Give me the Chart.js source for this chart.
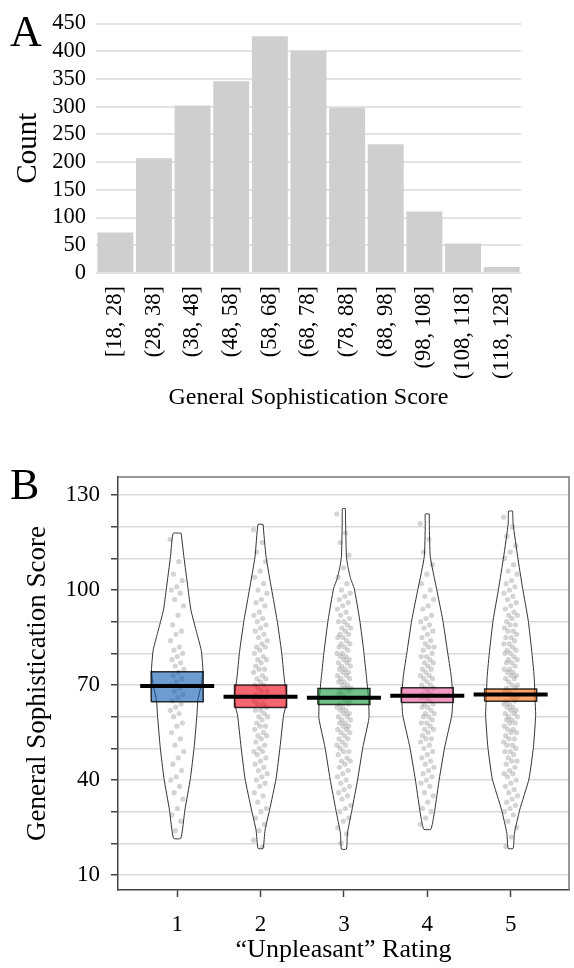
<!DOCTYPE html>
<html><head><meta charset="utf-8">
<script src="https://cdn.jsdelivr.net/npm/chart.js@4/dist/chart.umd.min.js"></script>
<style>
html,body{margin:0;padding:0;background:#fff;}
body{width:574px;height:968px;position:relative;overflow:hidden;}
#wrapA{position:absolute;left:0;top:0;width:574px;height:430px;}
#wrapB{position:absolute;left:0;top:430px;width:574px;height:538px;}
.panel{position:absolute;left:10px;font-family:"Liberation Serif","Times New Roman",serif;color:#000;line-height:1;}
</style></head><body>
<div id="wrapA"><canvas id="chartA" width="574" height="430"></canvas></div>
<div id="wrapB"><canvas id="chartB" width="574" height="538"></canvas></div>
<div class="panel" style="top:10px;font-size:44px">A</div>
<div class="panel" style="top:463px;font-size:44px">B</div>
<script>
const SERIF = '"Liberation Serif","Times New Roman",serif';

// ---------- Panel A data ----------
const binLabels = ['[18, 28]','(28, 38]','(38, 48]','(48, 58]','(58, 68]','(68, 78]','(78, 88]','(88, 98]','(98, 108]','(108, 118]','(118, 128]'];
const binCounts = [73, 207, 302, 346, 427, 401, 298, 232, 111, 53, 11];

// ---------- Panel B data ----------
const ratingCats = [1, 2, 3, 4, 5];
const yGridValues = [10,20,30,40,50,60,70,80,90,100,110,120,130];
const yLabelValues = [10, 40, 70, 100, 130];

// inference band (lower, upper) and mean per rating
const bandLower = [64.7, 62.9, 63.8, 64.5, 64.9];
const bandUpper = [74.2, 70.0, 68.9, 69.1, 68.7];
const groupMeans = [69.7, 66.3, 66.0, 66.6, 67.0];

// violin outlines: score levels and density (half-width) at each level
const violin1Y = [117.9,110.5,100.5,93.7,86.3,81,74.7,70,65.3,60.5,50.5,40.5,30.5,21.6];
const violin1D = [4,6.7,10.8,13.7,19.7,24,25.7,24,20.7,19.7,17,13.2,7.7,3.7];
const violin2Y = [120.7,110.5,100.3,90.5,80.5,72.6,66,63,60.5,50.5,40.4,30.5,24.2,18.4];
const violin2D = [2.5,5.5,11,16.5,21,23.5,26,25,23,19.5,15.5,9,4.5,2.5];
const violin3Y = [125.7,120.8,110.5,107.3,103.6,100.5,90.5,81,72.6,66,59.5,50.5,40.3,30.5,23.2,18.2];
const violin3D = [1.5,1.7,2.5,4,6.7,10.3,15.8,19.7,22.5,24.5,25,19,13.8,8,3.5,2.5];
const violin4Y = [124,120.8,110.5,100.5,90.5,81,72.6,66,60.5,50.5,40.3,30.5,26,24.4];
const violin4D = [2,2,3,9.2,15.5,20,24,25.5,24.5,17.5,12,7.5,5,3.5];
const violin5Y = [124.9,120.8,110.5,100.5,90.5,81,72.6,66,60.5,50.5,40.3,30.5,23.2,18.4];
const violin5D = [2,2.5,7,12,17.5,21,23.5,24.3,25,22.8,18.3,9,3.8,2.5];

// individual scores per rating
const scores1 = [116,109,105,103,101,100,99,97,95,92,89,87,86,84,82,81,80,79,78,77,76,75,74,73,72,71,70,69,68,67,66,65,64,63,62,61,60,58,57,55,53,51,49,47,45,43,41,40,38,36,34,31,29,27,24];
const scores2 = [119,115,112,109,106,104,102,100,99,97,96,95,93,92,91,90,89,88,87,86,85,84,83,82,82,81,80,79,78,78,77,76,75,75,74,73,72,72,71,70,70,69,68,68,67,66,66,65,64,64,63,62,62,61,60,60,59,58,57,57,56,55,54,54,53,52,51,50,49,49,48,47,46,45,44,43,42,41,40,39,38,36,35,33,31,30,28,26,24,21,19];
const scores3 = [124,118,115,111,107,104,102,100,99,98,97,96,95,94,93,92,91,90,90,89,88,88,87,86,86,85,85,84,83,83,82,82,81,80,80,79,79,78,78,77,77,76,76,75,75,74,74,73,73,72,72,71,71,70,70,69,69,68,68,67,67,66,66,65,65,64,64,63,63,62,62,61,61,60,60,59,59,58,58,57,57,56,56,55,55,54,53,53,52,51,51,50,49,49,48,47,46,46,45,44,43,42,41,40,39,38,37,36,35,34,32,31,30,28,27,25,23,20];
const scores4 = [121,116,112,108,105,102,100,98,97,95,94,92,91,90,89,88,87,86,85,84,83,82,82,81,80,79,79,78,77,77,76,75,75,74,73,73,72,72,71,70,70,69,69,68,67,67,66,66,65,64,64,63,63,62,61,61,60,60,59,58,58,57,56,56,55,54,53,53,52,51,50,49,48,47,46,45,44,43,42,41,40,39,38,36,35,33,31,30,28,26];
const scores5 = [123,120,117,114,112,110,108,106,105,103,102,101,100,99,98,97,96,95,94,93,92,92,91,90,89,89,88,87,87,86,85,85,84,83,83,82,81,81,80,80,79,78,78,77,77,76,75,75,74,74,73,73,72,72,71,70,70,69,69,68,68,67,67,66,66,65,65,64,64,63,63,62,62,61,61,60,60,59,59,58,58,57,56,56,55,55,54,53,53,52,51,51,50,49,49,48,47,46,46,45,44,43,42,42,41,40,39,38,37,36,35,34,33,32,31,30,29,27,25,22,19];

const bandColors = ['rgba(12,91,176,0.6)','rgba(238,0,17,0.6)','rgba(21,152,61,0.6)','rgba(236,87,154,0.6)','rgba(250,107,9,0.6)'];

// ---------- Panel A ----------
new Chart(document.getElementById('chartA'), {
  type: 'bar',
  data: { labels: binLabels, datasets: [{ data: binCounts, backgroundColor: '#cfcfcf', borderWidth: 0, barPercentage: 1, categoryPercentage: 0.93 }] },
  options: {
    responsive: false, animation: false, devicePixelRatio: 1,
    layout: { padding: { top: 20, right: 53, bottom: 0, left: 0 } },
    plugins: { legend: { display: false }, tooltip: { enabled: false } },
    scales: {
      x: {
        grid: { display: false, drawTicks: false }, border: { display: false },
        ticks: { autoSkip: false, minRotation: 90, maxRotation: 90, padding: 13, color: '#000', font: { family: SERIF, size: 22.5 } },
        title: { display: true, text: 'General Sophistication Score', color: '#000', font: { family: SERIF, size: 24 }, padding: { top: 0, bottom: 18 } },
        afterFit(s) { s.height = 157; }
      },
      y: {
        min: 0, max: 450,
        grid: { color: '#e3e3e3', lineWidth: 2, drawTicks: false }, border: { display: false },
        ticks: { stepSize: 50, autoSkip: false, padding: 10, color: '#000', font: { family: SERIF, size: 22.5 } },
        title: { display: true, text: 'Count', color: '#000', font: { family: SERIF, size: 29 }, padding: { top: 11, bottom: 0 } },
        afterFit(s) { s.width = 96; }
      }
    }
  }
});

// ---------- Panel B ----------
const VIOLIN_SCALE = 1 / 83.3;   // density units -> x-axis units
const BOX_HALF = 0.312, MEAN_HALF = 0.444, JITTER = 0.085;
const violinYs = [violin1Y, violin2Y, violin3Y, violin4Y, violin5Y];
const violinDs = [violin1D, violin2D, violin3D, violin4D, violin5D];
const scoreSets = [scores1, scores2, scores3, scores4, scores5];

const datasetsB = [];
ratingCats.forEach((c, g) => {
  const ys = violinYs[g], ds = violinDs[g];
  const pts = [];
  for (let i = 0; i < ys.length; i++) pts.push({ x: c + ds[i] * VIOLIN_SCALE, y: ys[i] });
  for (let i = ys.length - 1; i >= 0; i--) pts.push({ x: c - ds[i] * VIOLIN_SCALE, y: ys[i] });
  pts.push(pts[0]);
  datasetsB.push({ data: pts, order: 4, showLine: true, fill: 'shape', backgroundColor: '#ffffff', borderColor: '#333', borderWidth: 1, pointRadius: 0, tension: 0.15 });
});
ratingCats.forEach((c, g) => {
  const pts = scoreSets[g].map((v, i) => ({ x: c + (((i * 0.6180339887) % 1) - 0.5) * 2 * JITTER, y: v }));
  datasetsB.push({ data: pts, order: 3, showLine: false, pointRadius: 2.6, pointBorderWidth: 0, pointBackgroundColor: 'rgba(60,60,60,0.22)', pointHoverRadius: 0 });
});
ratingCats.forEach((c, g) => {
  const lo = bandLower[g], hi = bandUpper[g];
  const pts = [{ x: c - BOX_HALF, y: lo }, { x: c + BOX_HALF, y: lo }, { x: c + BOX_HALF, y: hi }, { x: c - BOX_HALF, y: hi }, { x: c - BOX_HALF, y: lo }];
  datasetsB.push({ data: pts, order: 2, showLine: true, fill: 'shape', backgroundColor: bandColors[g], borderColor: 'rgba(0,0,0,0.8)', borderWidth: 1.5, pointRadius: 0, tension: 0 });
});
ratingCats.forEach((c, g) => {
  datasetsB.push({ data: [{ x: c - MEAN_HALF, y: groupMeans[g] }, { x: c + MEAN_HALF, y: groupMeans[g] }], order: 1, showLine: true, fill: false, borderColor: '#000', borderWidth: 4, pointRadius: 0, borderCapStyle: 'butt' });
});

const framePlugin = {
  id: 'frame',
  beforeDatasetsDraw(chart) {
    const { ctx, chartArea: a } = chart;
    ctx.save();
    ctx.strokeStyle = '#777'; ctx.lineWidth = 1.5;
    ctx.beginPath();
    ctx.moveTo(a.left, a.top); ctx.lineTo(a.right, a.top); ctx.lineTo(a.right, a.bottom);
    ctx.stroke();
    ctx.restore();
  }
};

new Chart(document.getElementById('chartB'), {
  type: 'line',
  data: { datasets: datasetsB },
  plugins: [framePlugin],
  options: {
    responsive: false, animation: false, devicePixelRatio: 1,
    layout: { padding: { top: 47, right: 5, bottom: 0, left: 0 } },
    plugins: { legend: { display: false }, tooltip: { enabled: false } },
    elements: { point: { hoverRadius: 0 } },
    scales: {
      x: {
        type: 'linear', min: 0.29, max: 5.70,
        afterBuildTicks(s) { s.ticks = ratingCats.map(v => ({ value: v })); },
        grid: { drawOnChartArea: false, drawTicks: true, tickLength: 7, tickColor: '#444', tickWidth: 1.5 },
        border: { display: true, color: '#444', width: 1.5 },
        ticks: { padding: 14, color: '#000', font: { family: SERIF, size: 23 } },
        title: { display: true, text: '\u201cUnpleasant\u201d Rating', color: '#000', font: { family: SERIF, size: 26 }, padding: { top: 0, bottom: 2 } },
        afterFit(s) { s.height = 78; }
      },
      y: {
        type: 'linear', min: 5.26, max: 135.68,
        afterBuildTicks(s) { s.ticks = yGridValues.map(v => ({ value: v })); },
        grid: { color: '#d9d9d9', lineWidth: 1.5, drawTicks: true, tickLength: 7, tickColor: '#444', tickWidth: 1.5 },
        border: { display: true, color: '#444', width: 1.5 },
        ticks: { padding: 11, color: '#000', font: { family: SERIF, size: 23 }, callback: v => (yLabelValues.includes(v) ? String(v) : '') },
        title: { display: true, text: 'General Sophistication Score', color: '#000', font: { family: SERIF, size: 27 }, padding: { top: 22, bottom: 0 } },
        afterFit(s) { s.width = 118; }
      }
    }
  }
});
</script>
</body></html>
